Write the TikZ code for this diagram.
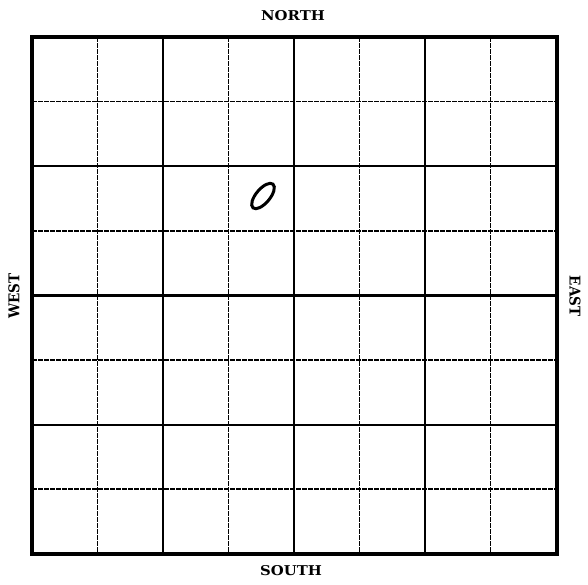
\documentclass[tikz,border=0pt]{standalone}
\usepackage{fontspec}
\newfontfamily\labelfont{DejaVu Serif}
\tikzset{
  frame/.style={line width=3.6pt, line join=miter},
  major/.style={line width=2.2pt},
  minor/.style={line width=1.6pt, dash pattern=on 4.5pt off 1.5pt},
  dirlabel/.style={font=\labelfont\bfseries\fontsize{13.5}{13.5}\selectfont, inner sep=0pt, xscale=1.1},
  digit/.style={line width=3pt}
}
\begin{document}
\begin{tikzpicture}[x=1pt,y=-1pt]
\useasboundingbox (0,0) rectangle (588,584);
% minor (dashed) lines
\foreach \i in {1,3,5,7} {
  \draw[minor] ({32+65.5*\i},37) -- ({32+65.5*\i},554);
  \draw[minor] (32,{37+64.6*\i}) -- (557,{37+64.6*\i});
}
% major (solid) lines
\foreach \i in {2,4,6} {
  \draw[major] ({32+65.5*\i},37) -- ({32+65.5*\i},554);
  \draw[major] (32,{37+64.6*\i}) -- (557,{37+64.6*\i});
}
% outer frame
\draw[frame] (32,37) rectangle (557,554);
% the handwritten zero
\draw[digit] (263,196) ellipse[x radius=15.5, y radius=7, rotate=50];
% labels
\node[dirlabel] (north) at (293,16) {NORTH};
\node[dirlabel] (south) at (291,571) {SOUTH};
\node[dirlabel, rotate=90] (west) at (14,296) {WEST};
\node[dirlabel, rotate=-90] (east) at (575,296) {EAST};
\end{tikzpicture}
\end{document}
